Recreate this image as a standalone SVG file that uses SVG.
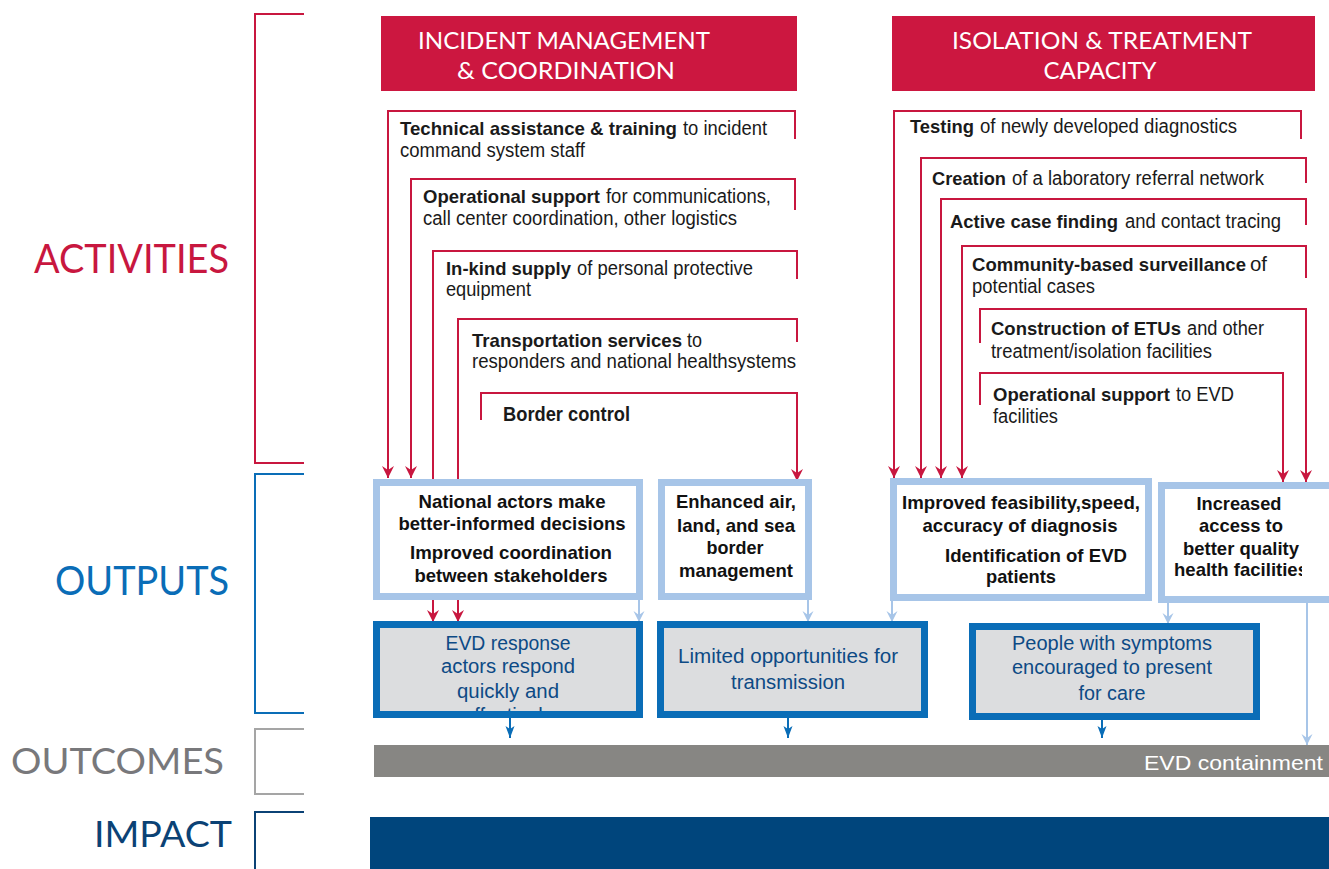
<svg xmlns="http://www.w3.org/2000/svg" width="1329" height="869" viewBox="0 0 1329 869">
<style>
.red{fill:none;stroke:#C8173F;stroke-width:2}
.lb{fill:none;stroke:#A7C5E8;stroke-width:2}
.bl{fill:none;stroke:#0A6DB7;stroke-width:2}
.act{font-family:"Liberation Sans",Arial,sans-serif;font-size:20px;fill:#1a1a1a}
.b{font-weight:bold}
.bs{font-weight:bold;font-size:18.5px}
.out{font-family:"Liberation Sans",Arial,sans-serif;font-size:19px;font-weight:bold;fill:#111;text-anchor:middle}
.oc{font-family:"Liberation Sans",Arial,sans-serif;font-size:20px;fill:#0D4A85;text-anchor:middle}
.hdr{font-family:Lato,"Liberation Sans",sans-serif;font-size:23px;fill:#fff;text-anchor:middle}
.side{font-family:Lato,"Liberation Sans",sans-serif;text-anchor:end}
.hbox{fill:#CC1740}
.obox{fill:#fff;stroke:#A7C5E8;stroke-width:7}
.cbox{fill:#DCDDDF;stroke:#0A6DB7;stroke-width:7}
</style>
<defs>
<marker id="ar" markerUnits="userSpaceOnUse" markerWidth="14" markerHeight="14" viewBox="-13 -7 14 14" refX="0" refY="0" orient="auto"><path d="M0,0 L-12,-6 L-8,0 L-12,6 Z" fill="#C8173F"/></marker>
<marker id="alb" markerUnits="userSpaceOnUse" markerWidth="14" markerHeight="14" viewBox="-13 -7 14 14" refX="0" refY="0" orient="auto"><path d="M0,0 L-11,-5.5 L-7,0 L-11,5.5 Z" fill="#A7C5E8"/></marker>
<marker id="abl" markerUnits="userSpaceOnUse" markerWidth="14" markerHeight="14" viewBox="-13 -7 14 14" refX="0" refY="0" orient="auto"><path d="M0,0 L-12,-4.5 L-9,0 L-12,4.5 Z" fill="#0A6DB7"/></marker>
<clipPath id="cEvd"><rect x="380" y="628" width="260" height="83"/></clipPath>
<clipPath id="cHf"><rect x="1165" y="489" width="137" height="107"/></clipPath>
</defs>

<g id="side-labels">
<path d="M304,14 H255 V463 H304" fill="none" stroke="#C8173F" stroke-width="2"/>
<path d="M304,474 H255 V713 H304" fill="none" stroke="#0A6DB7" stroke-width="2"/>
<path d="M304,729 H255 V794 H304" fill="none" stroke="#A5A5A5" stroke-width="2"/>
<path d="M304,812 H255 V869" fill="none" stroke="#0B4275" stroke-width="2"/>
<text class="side" x="229" y="273" font-size="40" fill="#C8173F" textLength="195" lengthAdjust="spacingAndGlyphs">ACTIVITIES</text>
<text class="side" x="229" y="595" font-size="40" fill="#0A6DB7" textLength="174" lengthAdjust="spacingAndGlyphs">OUTPUTS</text>
<text class="side" x="224" y="774" font-size="37" fill="#78787B" textLength="213" lengthAdjust="spacingAndGlyphs">OUTCOMES</text>
<text class="side" x="232" y="847" font-size="37" fill="#0B4275" textLength="138" lengthAdjust="spacingAndGlyphs">IMPACT</text>
</g>

<g id="outcome-bar">
<rect x="374" y="745" width="955" height="32" fill="#878683"/>
<text x="1323" y="770" font-family="Liberation Sans, Arial, sans-serif" font-size="21" fill="#fff" text-anchor="end" textLength="179" lengthAdjust="spacingAndGlyphs">EVD containment</text>
</g>
<g id="impact-bar">
<rect x="370" y="817" width="959" height="52" fill="#00457C"/>
</g>

<g id="hdr-incident">
<rect class="hbox" x="381" y="16" width="416" height="75"/>
<text class="hdr" x="564" y="49" textLength="292" lengthAdjust="spacingAndGlyphs">INCIDENT MANAGEMENT</text>
<text class="hdr" x="566" y="79" textLength="218" lengthAdjust="spacingAndGlyphs">&amp; COORDINATION</text>
</g>
<g id="hdr-isolation">
<rect class="hbox" x="892" y="16" width="423" height="75"/>
<text class="hdr" x="1102" y="49" textLength="300" lengthAdjust="spacingAndGlyphs">ISOLATION &amp; TREATMENT</text>
<text class="hdr" x="1100" y="79" textLength="113" lengthAdjust="spacingAndGlyphs">CAPACITY</text>
</g>

<g id="connectors">
<path class="red" d="M795,139 V111 H388 V478" marker-end="url(#ar)"/>
<path class="red" d="M795,210 V179 H411 V478" marker-end="url(#ar)"/>
<path class="red" d="M797,279 V251 H433 V622" marker-end="url(#ar)"/>
<path class="red" d="M797,342 V319 H458 V622" marker-end="url(#ar)"/>
<path class="red" d="M481,420 V393 H797 V481" marker-end="url(#ar)"/>
<path class="red" d="M1301,139 V111 H894 V478" marker-end="url(#ar)"/>
<path class="red" d="M1306,183 V158 H921 V478" marker-end="url(#ar)"/>
<path class="red" d="M1306,225 V199 H941 V478" marker-end="url(#ar)"/>
<path class="red" d="M1306,278 V246 H962 V478" marker-end="url(#ar)"/>
<path class="red" d="M980,343 V309 H1306 V482" marker-end="url(#ar)"/>
<path class="red" d="M980,405 V373 H1283 V482" marker-end="url(#ar)"/>
<path class="lb" d="M639,600 V622" marker-end="url(#alb)"/>
<path class="lb" d="M808,600 V622" marker-end="url(#alb)"/>
<path class="lb" d="M892,601 V622" marker-end="url(#alb)"/>
<path class="lb" d="M1168,603 V624" marker-end="url(#alb)"/>
<path class="lb" d="M1307,603 V745" marker-end="url(#alb)"/>
<path class="bl" d="M510,718 V738" marker-end="url(#abl)"/>
<path class="bl" d="M788,718 V738" marker-end="url(#abl)"/>
<path class="bl" d="M1102,720 V738" marker-end="url(#abl)"/>
</g>

<g id="act-technical">
<text class="act bs" x="400" y="135" textLength="277" lengthAdjust="spacingAndGlyphs">Technical assistance &amp; training</text>
<text class="act" x="683" y="135" textLength="84" lengthAdjust="spacingAndGlyphs">to incident</text>
<text class="act" x="400" y="157" textLength="185" lengthAdjust="spacingAndGlyphs">command system staff</text>
</g>
<g id="act-operational">
<text class="act bs" x="423" y="203" textLength="177" lengthAdjust="spacingAndGlyphs">Operational support</text>
<text class="act" x="606" y="203" textLength="165" lengthAdjust="spacingAndGlyphs">for communications,</text>
<text class="act" x="423" y="225" textLength="314" lengthAdjust="spacingAndGlyphs">call center coordination, other logistics</text>
</g>
<g id="act-inkind">
<text class="act bs" x="446" y="275" textLength="125" lengthAdjust="spacingAndGlyphs">In-kind supply</text>
<text class="act" x="577" y="275" textLength="176" lengthAdjust="spacingAndGlyphs">of personal protective</text>
<text class="act" x="446" y="296" textLength="85" lengthAdjust="spacingAndGlyphs">equipment</text>
</g>
<g id="act-transport">
<text class="act bs" x="472" y="347" textLength="210" lengthAdjust="spacingAndGlyphs">Transportation services</text>
<text class="act" x="687" y="347" textLength="15" lengthAdjust="spacingAndGlyphs">to</text>
<text class="act" x="472" y="368" textLength="324" lengthAdjust="spacingAndGlyphs">responders and national healthsystems</text>
</g>
<g id="act-border">
<text class="act b" x="503" y="421" textLength="127" lengthAdjust="spacingAndGlyphs">Border control</text>
</g>
<g id="act-testing">
<text class="act bs" x="910" y="133" textLength="64" lengthAdjust="spacingAndGlyphs">Testing</text>
<text class="act" x="980" y="133" textLength="257" lengthAdjust="spacingAndGlyphs">of newly developed diagnostics</text>
</g>
<g id="act-lab">
<text class="act bs" x="932" y="185" textLength="74" lengthAdjust="spacingAndGlyphs">Creation</text>
<text class="act" x="1012" y="185" textLength="252" lengthAdjust="spacingAndGlyphs">of a laboratory referral network</text>
</g>
<g id="act-casefinding">
<text class="act bs" x="950" y="228" textLength="168" lengthAdjust="spacingAndGlyphs">Active case finding</text>
<text class="act" x="1125" y="228" textLength="156" lengthAdjust="spacingAndGlyphs">and contact tracing</text>
</g>
<g id="act-surveillance">
<text class="act bs" x="972" y="271" textLength="274" lengthAdjust="spacingAndGlyphs">Community-based surveillance</text>
<text class="act" x="1250" y="271" textLength="17" lengthAdjust="spacingAndGlyphs">of</text>
<text class="act" x="972" y="293" textLength="123" lengthAdjust="spacingAndGlyphs">potential cases</text>
</g>
<g id="act-etus">
<text class="act bs" x="991" y="335" textLength="190" lengthAdjust="spacingAndGlyphs">Construction of ETUs</text>
<text class="act" x="1187" y="335" textLength="77" lengthAdjust="spacingAndGlyphs">and other</text>
<text class="act" x="991" y="358" textLength="221" lengthAdjust="spacingAndGlyphs">treatment/isolation facilities</text>
</g>
<g id="act-opsupport">
<text class="act bs" x="993" y="401" textLength="177" lengthAdjust="spacingAndGlyphs">Operational support</text>
<text class="act" x="1176" y="401" textLength="58" lengthAdjust="spacingAndGlyphs">to EVD</text>
<text class="act" x="993" y="423" textLength="65" lengthAdjust="spacingAndGlyphs">facilities</text>
</g>

<g id="out-decisions">
<rect class="obox" x="376.5" y="482.5" width="263" height="114"/>
<text class="out" x="512" y="508" textLength="187" lengthAdjust="spacingAndGlyphs">National actors make</text>
<text class="out" x="512" y="530" textLength="227" lengthAdjust="spacingAndGlyphs">better-informed decisions</text>
<text class="out" x="511" y="559" textLength="202" lengthAdjust="spacingAndGlyphs">Improved coordination</text>
<text class="out" x="511" y="582" textLength="193" lengthAdjust="spacingAndGlyphs">between stakeholders</text>
</g>
<g id="out-border">
<rect class="obox" x="661.5" y="482.5" width="147" height="114"/>
<text class="out" x="736" y="508" textLength="120" lengthAdjust="spacingAndGlyphs">Enhanced air,</text>
<text class="out" x="736" y="532" textLength="118" lengthAdjust="spacingAndGlyphs">land, and sea</text>
<text class="out" x="735" y="554" textLength="57" lengthAdjust="spacingAndGlyphs">border</text>
<text class="out" x="736" y="577" textLength="114" lengthAdjust="spacingAndGlyphs">management</text>
</g>
<g id="out-diagnosis">
<rect class="obox" x="893.5" y="481.5" width="255" height="116"/>
<text class="out" x="1021" y="509" textLength="238" lengthAdjust="spacingAndGlyphs">Improved feasibility,speed,</text>
<text class="out" x="1020" y="532" textLength="195" lengthAdjust="spacingAndGlyphs">accuracy of diagnosis</text>
<text class="out" x="1036" y="562" textLength="182" lengthAdjust="spacingAndGlyphs">Identification of EVD</text>
<text class="out" x="1021" y="583" textLength="70" lengthAdjust="spacingAndGlyphs">patients</text>
</g>
<g id="out-facilities">
<rect class="obox" x="1161.5" y="485.5" width="180" height="114"/>
<text class="out" x="1239" y="510" textLength="85" lengthAdjust="spacingAndGlyphs">Increased</text>
<text class="out" x="1241" y="532" textLength="84" lengthAdjust="spacingAndGlyphs">access to</text>
<text class="out" x="1241" y="555" textLength="116" lengthAdjust="spacingAndGlyphs">better quality</text>
<g clip-path="url(#cHf)"><text class="out" x="1174" y="576" style="text-anchor:start" textLength="134" lengthAdjust="spacingAndGlyphs">health facilities</text></g>
</g>

<g id="oc-response">
<rect class="cbox" x="376.5" y="624.5" width="263" height="90"/>
<g clip-path="url(#cEvd)">
<text class="oc" x="508" y="650" textLength="125" lengthAdjust="spacingAndGlyphs">EVD response</text>
<text class="oc" x="508" y="673" textLength="134" lengthAdjust="spacingAndGlyphs">actors respond</text>
<text class="oc" x="508" y="698" textLength="102" lengthAdjust="spacingAndGlyphs">quickly and</text>
<text class="oc" x="508" y="722" textLength="90" lengthAdjust="spacingAndGlyphs">effectively</text>
</g>
</g>
<g id="oc-transmission">
<rect class="cbox" x="660.5" y="624.5" width="264" height="90"/>
<text class="oc" x="788" y="663" textLength="220" lengthAdjust="spacingAndGlyphs">Limited opportunities for</text>
<text class="oc" x="788" y="689" textLength="114" lengthAdjust="spacingAndGlyphs">transmission</text>
</g>
<g id="oc-present">
<rect class="cbox" x="972.5" y="626.5" width="284" height="90"/>
<text class="oc" x="1112" y="650" textLength="200" lengthAdjust="spacingAndGlyphs">People with symptoms</text>
<text class="oc" x="1112" y="674" textLength="200" lengthAdjust="spacingAndGlyphs">encouraged to present</text>
<text class="oc" x="1112" y="700" textLength="67" lengthAdjust="spacingAndGlyphs">for care</text>
</g>
</svg>
